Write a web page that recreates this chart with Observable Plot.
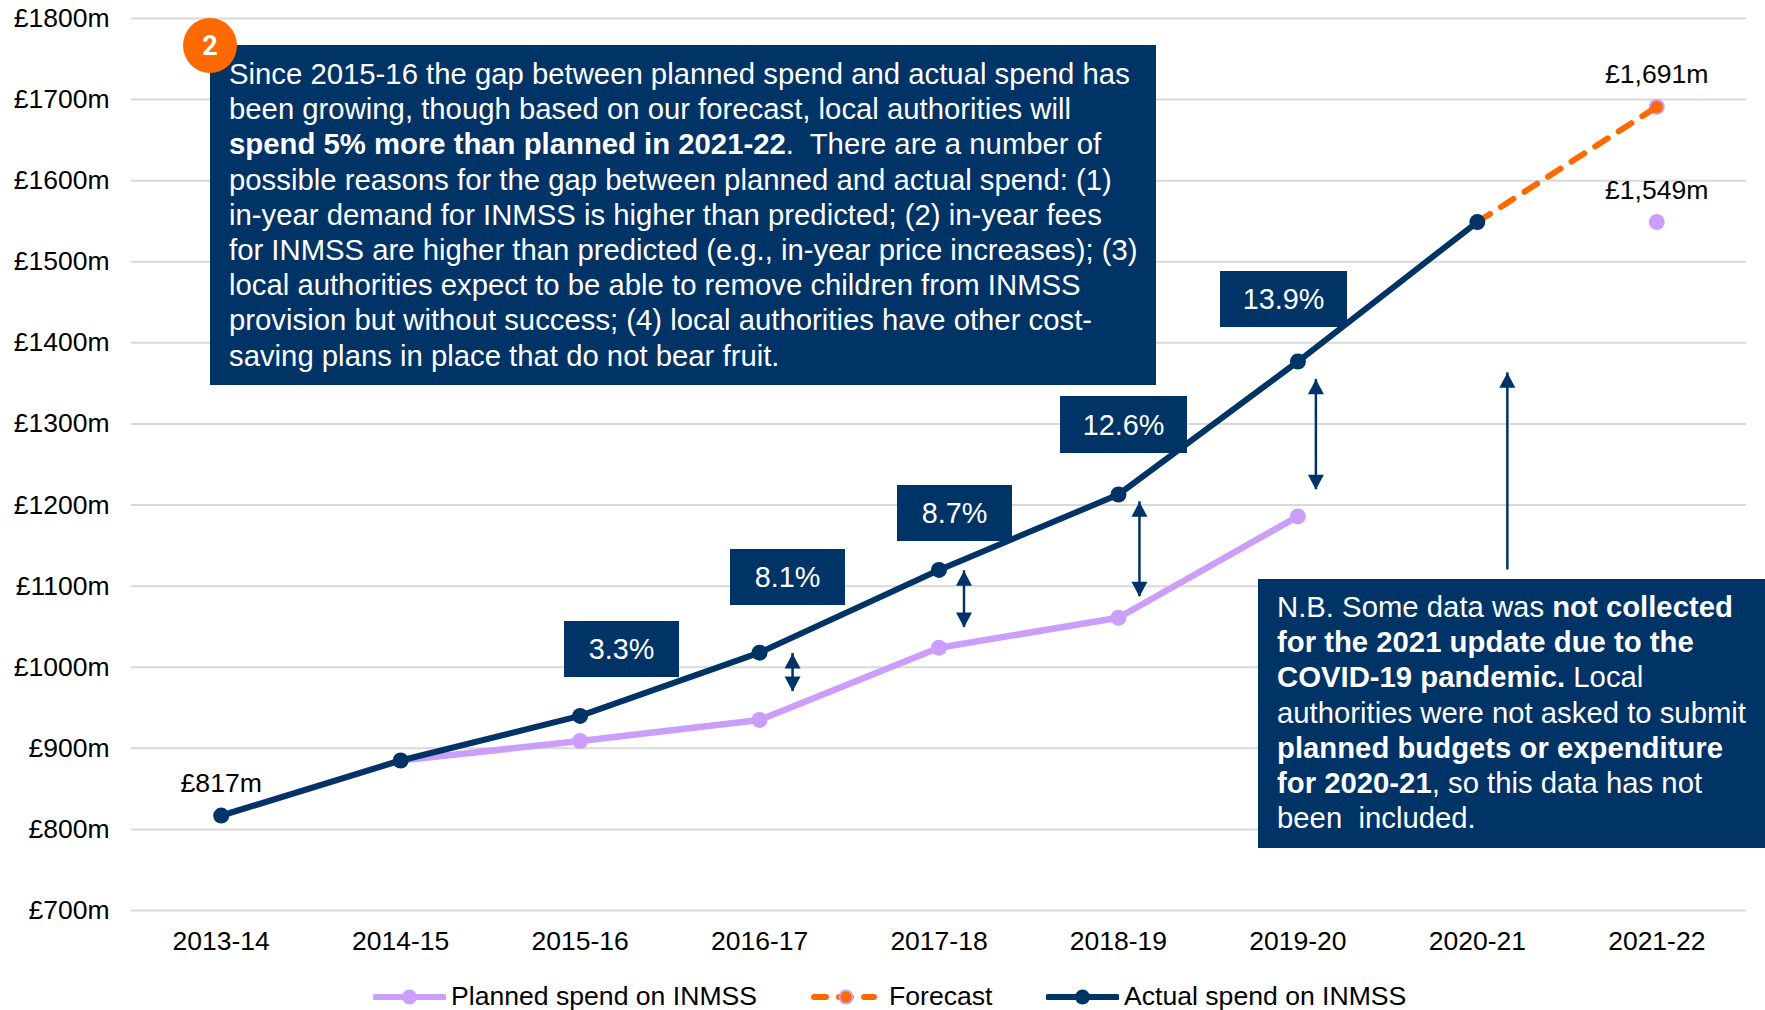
<!DOCTYPE html>
<html>
<head>
<meta charset="utf-8">
<script src="https://cdn.jsdelivr.net/npm/d3@7"></script>
<script src="https://cdn.jsdelivr.net/npm/@observablehq/plot@0.6"></script>
<style>
  html, body { margin: 0; padding: 0; background: #fff; }
  body { width: 1765px; height: 1010px; position: relative; overflow: hidden;
         font-family: "Liberation Sans", Arial, sans-serif; color: #000; }
  #chart svg { display: block; }
  .box { position: absolute; background: #003366; color: #fff; box-sizing: border-box; }
  .pct { font-size: 28.8px; display: flex; align-items: center; justify-content: center; padding-top: 1px; }
  .para { font-size: 29.3px; line-height: 35.2px; white-space: nowrap; }
  #main { left: 210px; top: 45px; width: 946px; height: 340px; padding: 11px 0 0 19px; }
  #nb { left: 1258px; top: 579px; width: 507px; height: 269px; padding: 10px 0 0 19px; }
  #badge { position: absolute; left: 183px; top: 18px; width: 54px; height: 55px; border-radius: 50%;
           background: #FF6A00; color: #fff; font: bold 27px Roboto, sans-serif;
           display: flex; align-items: center; justify-content: center; z-index: 2; }
  .leg { position: absolute; top: 978px; height: 36px; font-size: 26.6px; line-height: 36px; white-space: nowrap; }
  .sw { position: absolute; top: 979px; }
</style>
</head>
<body>
<div id="chart"></div>
<div id="badge">2</div>
<div id="boxes"></div>
<div id="main" class="box para"></div>
<div id="nb" class="box para"></div>
<div id="legend"></div>
<script>
const years = ["2013-14","2014-15","2015-16","2016-17","2017-18","2018-19","2019-20","2020-21","2021-22"];
const planned = [817, 885, 909, 935, 1024, 1061, 1186, null, 1549];
const actual = [817, 885, 940, 1018, 1120, 1213, 1377, 1549, null];
const forecast = [null, null, null, null, null, null, null, 1549, 1691];
const valueLabels = [
  {year: "2013-14", value: 817, text: "£817m"},
  {year: "2021-22", value: 1691, text: "£1,691m"},
  {year: "2021-22", value: 1549, text: "£1,549m"}
];
const gapLabels = ["3.3%", "8.1%", "8.7%", "12.6%", "13.9%"];
const gapArrows = [
  {year: "2016-17", top: 1017, bottom: 970, dx: 33},
  {year: "2017-18", top: 1119, bottom: 1049, dx: 25},
  {year: "2018-19", top: 1204, bottom: 1087, dx: 21},
  {year: "2019-20", top: 1355, bottom: 1219, dx: 18}
];
const noteArrow = {year: "2020-21", top: 1363, bottom: 1120, dx: 30};
const mainLines = [
  "Since 2015-16 the gap between planned spend and actual spend has",
  "been growing, though based on our forecast, local authorities will",
  "<b>spend 5% more than planned in 2021-22</b>.&nbsp; There are a number of",
  "possible reasons for the gap between planned and actual spend: (1)",
  "in-year demand for INMSS is higher than predicted; (2) in-year fees",
  "for INMSS are higher than predicted (e.g., in-year price increases); (3)",
  "local authorities expect to be able to remove children from INMSS",
  "provision but without success; (4) local authorities have other cost-",
  "saving plans in place that do not bear fruit."
];
const noteLines = [
  "N.B. Some data was <b>not collected</b>",
  "<b>for the 2021 update due to the</b>",
  "<b>COVID-19 pandemic.</b> Local",
  "authorities were not asked to submit",
  "<b>planned budgets or expenditure</b>",
  "<b>for 2020-21</b>, so this data has not",
  "been&nbsp; included."
];

const navy = "#003366", lilac = "#CC9EFB", orange = "#FF6A00", gridCol = "#D9D9D9";
const rows = (vals) => years.map((y, i) => ({year: y, value: vals[i]}));
const up = {draw(c) { c.moveTo(0, 0); c.lineTo(-8, 15); c.lineTo(8, 15); c.closePath(); }};
const down = {draw(c) { c.moveTo(0, 0); c.lineTo(-8, -15); c.lineTo(8, -15); c.closePath(); }};

const plot = Plot.plot({
  width: 1765, height: 975,
  marginLeft: 131, marginRight: 19, marginTop: 18, marginBottom: 65,
  style: {fontFamily: '"Liberation Sans", Arial, sans-serif', fontSize: "26.5px", color: "#000", background: "transparent"},
  x: {type: "point", domain: years, padding: 0.5, round: false, label: null},
  y: {domain: [700, 1800], label: null},
  marks: [
    Plot.ruleY(d3.range(700, 1801, 100), {stroke: gridCol, strokeWidth: 2}),
    Plot.axisY({ticks: d3.range(700, 1801, 100), tickSize: 0, tickPadding: 22, tickFormat: d => `£${d}m`, label: null, fontSize: 26.5}),
    Plot.axisX({tickSize: 0, tickPadding: 21, label: null, fontSize: 26.5}),
    Plot.line(rows(planned), {x: "year", y: "value", stroke: lilac, strokeWidth: 6.5}),
    Plot.dot(rows(planned).filter(d => d.value != null && d.year !== "2013-14" && d.year !== "2014-15"), {x: "year", y: "value", r: 8, fill: lilac, stroke: "none"}),
    Plot.dot(rows(forecast).slice(8), {x: "year", y: "value", r: 8, fill: lilac, stroke: "none"}),
    Plot.line(rows(forecast), {x: "year", y: "value", stroke: orange, strokeWidth: 6, strokeDasharray: "15 13", strokeLinecap: "round"}),
    Plot.dot(rows(forecast).slice(8), {x: "year", y: "value", r: 6, fill: orange, stroke: "none"}),
    Plot.line(rows(actual), {x: "year", y: "value", stroke: navy, strokeWidth: 6}),
    Plot.dot(rows(actual).filter(d => d.value != null), {x: "year", y: "value", r: 8, fill: navy, stroke: "none"}),
    ...[...gapArrows, noteArrow].map(a =>
      Plot.ruleX([a], {x: "year", y1: "top", y2: "bottom", dx: a.dx, stroke: navy, strokeWidth: 2.5})),
    ...[...gapArrows, noteArrow].map(a =>
      Plot.dot([a], {x: "year", y: "top", dx: a.dx, symbol: () => up, r: 5, fill: navy, stroke: "none"})),
    ...gapArrows.map(a =>
      Plot.dot([a], {x: "year", y: "bottom", dx: a.dx, symbol: () => down, r: 5, fill: navy, stroke: "none"})),
    Plot.text(valueLabels, {x: "year", y: "value", text: "text", dy: -32, fontSize: 26.6, fill: "#000"})
  ]
});
document.getElementById("chart").appendChild(plot);

const gapBoxes = [[564,621,115,56],[730,549,115,56],[897,485,115,56],[1060,396,127,57],[1220,271,127,56]];
document.getElementById("boxes").innerHTML = gapLabels.map((t, i) => {
  const [l, tp, w, h] = gapBoxes[i];
  return `<div class="box pct" style="left:${l}px;top:${tp}px;width:${w}px;height:${h}px">${t}</div>`;
}).join("");
document.getElementById("main").innerHTML = mainLines.join("<br>");
document.getElementById("nb").innerHTML = noteLines.join("<br>");

const legendItems = [
  {name: "Planned spend on INMSS", sw: 373, w: 73, tx: 451, kind: "planned"},
  {name: "Forecast", sw: 811, w: 66, tx: 889, kind: "forecast"},
  {name: "Actual spend on INMSS", sw: 1046, w: 73, tx: 1124, kind: "actual"}
];
document.getElementById("legend").innerHTML = legendItems.map(it => {
  const c = it.w / 2;
  let g = "";
  if (it.kind === "planned") g = `<line x1="2" x2="${it.w-2}" y1="18" y2="18" stroke="${lilac}" stroke-width="6" stroke-linecap="round"/><circle cx="${c}" cy="18" r="7.5" fill="${lilac}"/>`;
  if (it.kind === "actual") g = `<line x1="2" x2="${it.w-2}" y1="18" y2="18" stroke="${navy}" stroke-width="6" stroke-linecap="round"/><circle cx="${c}" cy="18" r="7.5" fill="${navy}"/>`;
  if (it.kind === "forecast") g = `<line x1="3" x2="${it.w-3}" y1="18" y2="18" stroke="${orange}" stroke-width="6" stroke-linecap="round" stroke-dasharray="12 13"/><circle cx="${c+2}" cy="18" r="7.5" fill="${lilac}"/><circle cx="${c+2}" cy="18" r="5.5" fill="${orange}"/>`;
  return `<svg class="sw" style="left:${it.sw}px" width="${it.w}" height="36">${g}</svg><div class="leg" style="left:${it.tx}px">${it.name}</div>`;
}).join("");
</script>
</body>
</html>
